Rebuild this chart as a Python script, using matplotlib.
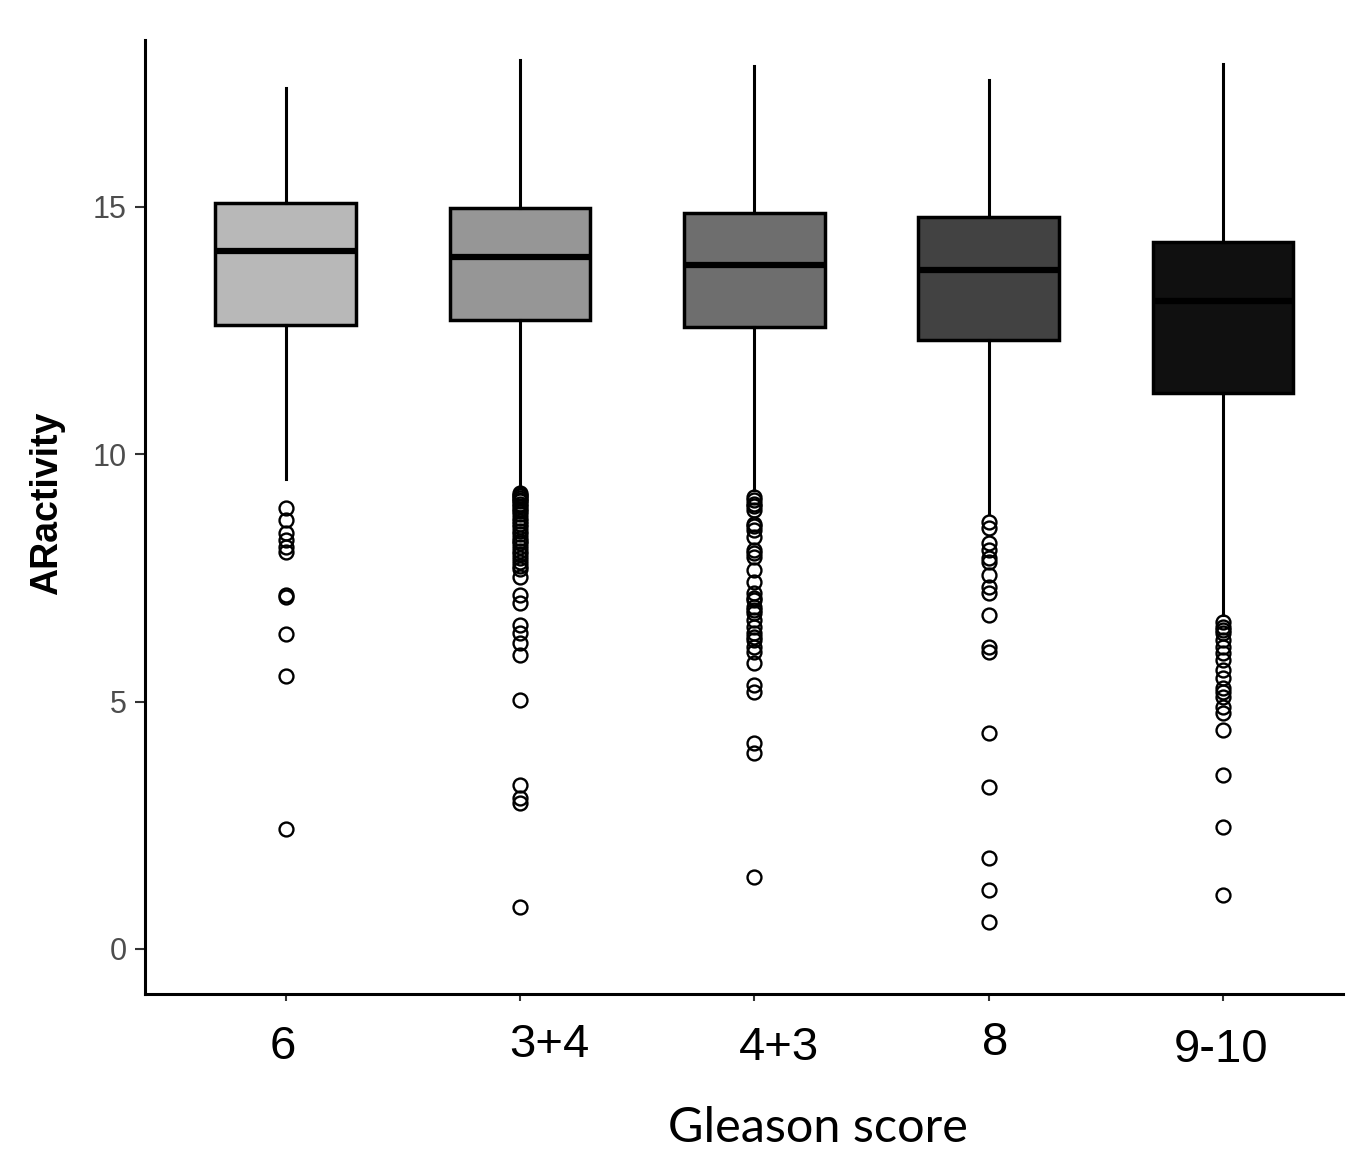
import matplotlib
matplotlib.use("Agg")
import matplotlib.pyplot as plt
from matplotlib.transforms import ScaledTranslation

# Gleason score groups
groups = ["6", "3+4", "4+3", "8", "9-10"]
box_colors = ["#b8b8b8", "#969696", "#6e6e6e", "#424242", "#101010"]

# box statistics
whishi = [17.40, 17.97, 17.85, 17.57, 17.89]
q3 = [15.08, 14.98, 14.88, 14.80, 14.29]
med = [14.11, 13.99, 13.83, 13.73, 13.10]
q1 = [12.61, 12.71, 12.57, 12.31, 11.24]
whislo = [9.50, 9.32, 9.28, 8.81, 6.75]

fliers_6 = [8.91, 8.67, 8.41, 8.27, 8.13, 8.03, 7.16, 7.12, 6.37, 5.52, 2.43]
fliers_34 = [9.22, 9.18, 9.15, 9.12, 9.08, 9.05, 9.0, 8.95, 8.9, 8.85, 8.8, 8.72,
             8.65, 8.6, 8.52, 8.45, 8.38, 8.3, 8.25, 8.2, 8.12, 8.05, 7.98, 7.9,
             7.82, 7.75, 7.68, 7.52, 7.16, 6.99, 6.55, 6.39, 6.19, 5.94, 5.03,
             3.31, 3.05, 2.95, 0.85]
fliers_43 = [9.14, 9.08, 9.0, 8.95, 8.87, 8.6, 8.54, 8.47, 8.33, 8.07, 8.0, 7.93,
             7.66, 7.42, 7.2, 7.1, 7.05, 6.91, 6.85, 6.79, 6.65, 6.51, 6.39, 6.3,
             6.25, 6.1, 6.0, 5.78, 5.34, 5.2, 4.16, 3.96, 1.46]
fliers_8 = [8.63, 8.51, 8.21, 8.07, 7.9, 7.82, 7.56, 7.32, 7.2, 6.75, 6.1, 6.0,
            4.37, 3.27, 1.84, 1.19, 0.55]
fliers_910 = [6.61, 6.51, 6.45, 6.39, 6.25, 6.1, 5.98, 5.84, 5.64, 5.48, 5.28,
              5.2, 5.09, 4.89, 4.77, 4.43, 3.52, 2.47, 1.09]
fliers = [fliers_6, fliers_34, fliers_43, fliers_8, fliers_910]

# manual nudges of the x labels (points), as in the original figure
label_dx = [-2, 21, 18, 5, -1]
label_dy = [-38, -37, -39, -35, -40]

stats = []
for i, g in enumerate(groups):
    stats.append(dict(label=g, med=med[i], q1=q1[i], q3=q3[i],
                      whislo=whislo[i], whishi=whishi[i], fliers=fliers[i]))

fig = plt.figure(figsize=(13.46, 11.59), dpi=100)
ax = fig.add_axes([0.1077, 0.1424, 0.8903, 0.8231])

pos = list(range(1, len(groups) + 1))
bp = ax.bxp(stats, positions=pos, widths=0.6, patch_artist=True, showcaps=False,
            boxprops=dict(linewidth=2.5, edgecolor="black"),
            medianprops=dict(linewidth=4.5, color="black", solid_capstyle="butt"),
            whiskerprops=dict(linewidth=2.2, color="black"),
            flierprops=dict(marker="o", markerfacecolor="none",
                            markeredgecolor="black", markersize=10,
                            markeredgewidth=1.7))
for patch, c in zip(bp["boxes"], box_colors):
    patch.set_facecolor(c)

ax.set_xlim(0.40, 5.514)
ax.set_ylim(-0.91, 18.375)
ax.set_yticks([0, 5, 10, 15])
ax.set_yticklabels(["0", "5", "10", "15"], fontsize=22, color="#4d4d4d",
                   fontfamily="Liberation Sans")
ax.tick_params(axis="y", length=7, width=1.5, color="#333333", pad=6)
ax.set_xticks(pos)
ax.set_xticklabels([""] * len(groups))
ax.tick_params(axis="x", length=5, width=1.5, color="#333333")

for s in ["top", "right"]:
    ax.spines[s].set_visible(False)
for s in ["left", "bottom"]:
    ax.spines[s].set_linewidth(2.2)

for i, g in enumerate(groups):
    tr = ax.get_xaxis_transform() + ScaledTranslation(label_dx[i] / 72, label_dy[i] / 72,
                                                      fig.dpi_scale_trans)
    ax.text(pos[i], 0, g, transform=tr, ha="center", va="center", fontsize=34,
            fontfamily="Liberation Sans", color="black")

fig.text(0.608, 0.027, "Gleason score", ha="center", va="center", fontsize=35,
         fontfamily="Lato")
fig.text(0.035, 0.566, "ARactivity", ha="center", va="center", rotation=90,
         fontsize=27, fontweight="bold", fontfamily="Liberation Sans")

fig.savefig("out.png", dpi=100)
